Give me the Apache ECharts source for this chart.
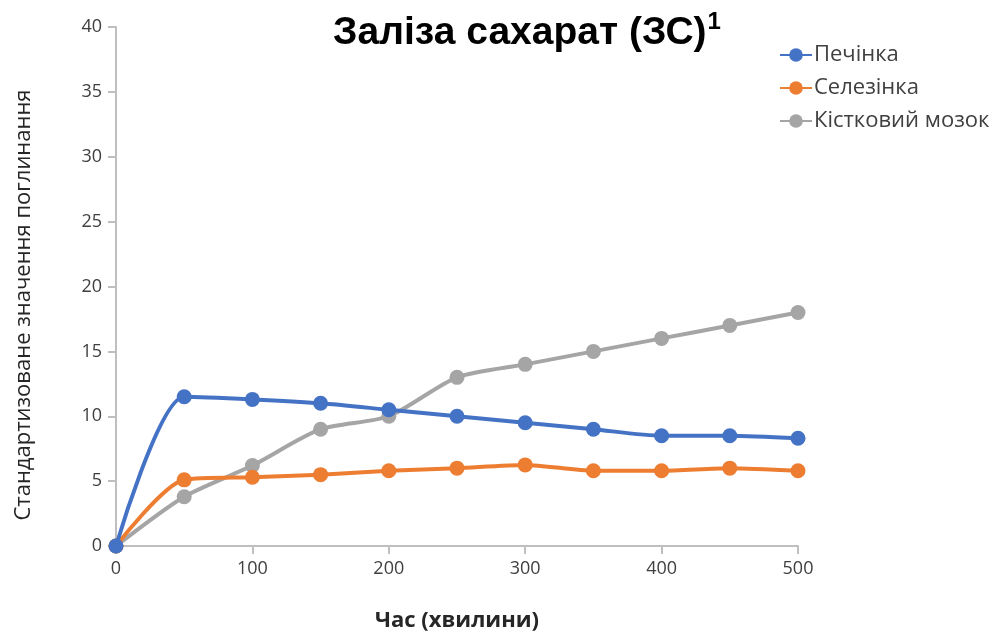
<!DOCTYPE html>
<html><head><meta charset="utf-8">
<script src="https://cdn.jsdelivr.net/npm/echarts@6/dist/echarts.min.js"></script>
<style>html,body{margin:0;padding:0;background:#fff}#c{width:997px;height:635px}</style>
</head><body><div id="c"></div>
<script>
const times = [0, 50, 100, 150, 200, 250, 300, 350, 400, 450, 500];
const liver = [0, 11.5, 11.3, 11.0, 10.5, 10.0, 9.5, 9.0, 8.5, 8.5, 8.3];
const spleen = [0, 5.1, 5.3, 5.5, 5.8, 6.0, 6.25, 5.8, 5.8, 6.0, 5.8];
const marrow = [0, 3.8, 6.2, 9.0, 10.0, 13.0, 14.0, 15.0, 16.0, 17.0, 18.0];
const seriesNames = ['Печінка', 'Селезінка', 'Кістковий мозок'];
const colors = ['#4472C4', '#ED7D31', '#A5A5A5'];
const yTicks = [0, 5, 10, 15, 20, 25, 30, 35, 40];
const xTicks = [0, 100, 200, 300, 400, 500];
const titleText = 'Заліза сахарат (ЗС)';
const titleSup = '1';
const xName = 'Час (хвилини)';
const yName = 'Стандартизоване значення поглинання';

const chart = echarts.init(document.getElementById('c'));
const pair = arr => times.map((t, i) => [t, arr[i]]);
const font = 'Liberation Sans, Arial, sans-serif';
chart.setOption({
  animation: false,
  title: {
    text: '{t|' + titleText + '}{s|' + titleSup + '}',
    left: 522, top: 5, textAlign: 'center',
    textStyle: {
      rich: {
        t: {fontFamily: font, fontSize: 39, fontWeight: 'bold', color: '#000', verticalAlign: 'bottom'},
        s: {fontFamily: font, fontSize: 24, fontWeight: 'bold', color: '#000', verticalAlign: 'top', padding: [0, 0, 19, 1]}
      }
    }
  },
  legend: {
    orient: 'vertical', left: 774, top: 39, itemGap: 11,
    itemWidth: 32, itemHeight: 17,
    textStyle: {fontFamily: 'Open Sans, sans-serif', fontSize: 22, color: '#404040', padding: [0, 0, 0, -3]},
    data: seriesNames
  },
  graphic: [{
    type: 'text', x: 24, y: 305, rotation: Math.PI / 2,
    style: {text: yName, fontFamily: 'Open Sans, sans-serif', fontSize: 22, fill: '#262626',
      align: 'center', verticalAlign: 'middle'}
  }],
  grid: {left: 116, right: 199, top: 27, bottom: 89, containLabel: false, outerBoundsMode: 'none'},
  xAxis: {
    type: 'value', min: 0, max: 500, interval: 100,
    name: xName, nameLocation: 'middle', nameGap: 64,
    nameTextStyle: {fontFamily: 'Open Sans, sans-serif', fontSize: 22, fontWeight: 'bold', color: '#262626'},
    axisLine: {show: true, lineStyle: {color: '#BFBFBF', width: 2}},
    axisTick: {show: true, length: 8, lineStyle: {color: '#BFBFBF', width: 2}},
    axisLabel: {fontFamily: 'Open Sans, sans-serif', fontSize: 18, color: '#404040', margin: 14,
      formatter: v => xTicks.includes(v) ? String(v) : ''},
    splitLine: {show: false}
  },
  yAxis: {
    type: 'value', min: 0, max: 40, interval: 5,
    axisLine: {show: true, lineStyle: {color: '#BFBFBF', width: 2}},
    axisTick: {show: true, length: 8, lineStyle: {color: '#BFBFBF', width: 2}},
    axisLabel: {fontFamily: 'Open Sans, sans-serif', fontSize: 18, color: '#404040', margin: 14,
      formatter: v => yTicks.includes(v) ? String(v) : ''},
    splitLine: {show: false}
  },
  series: [liver, spleen, marrow].map((arr, i) => ({
    name: seriesNames[i], type: 'line', data: pair(arr),
    smooth: 0.25, symbol: 'circle', symbolSize: 15,
    lineStyle: {color: colors[i], width: 4},
    itemStyle: {color: colors[i]},
    z: 3 - i
  }))
});
</script></body></html>
